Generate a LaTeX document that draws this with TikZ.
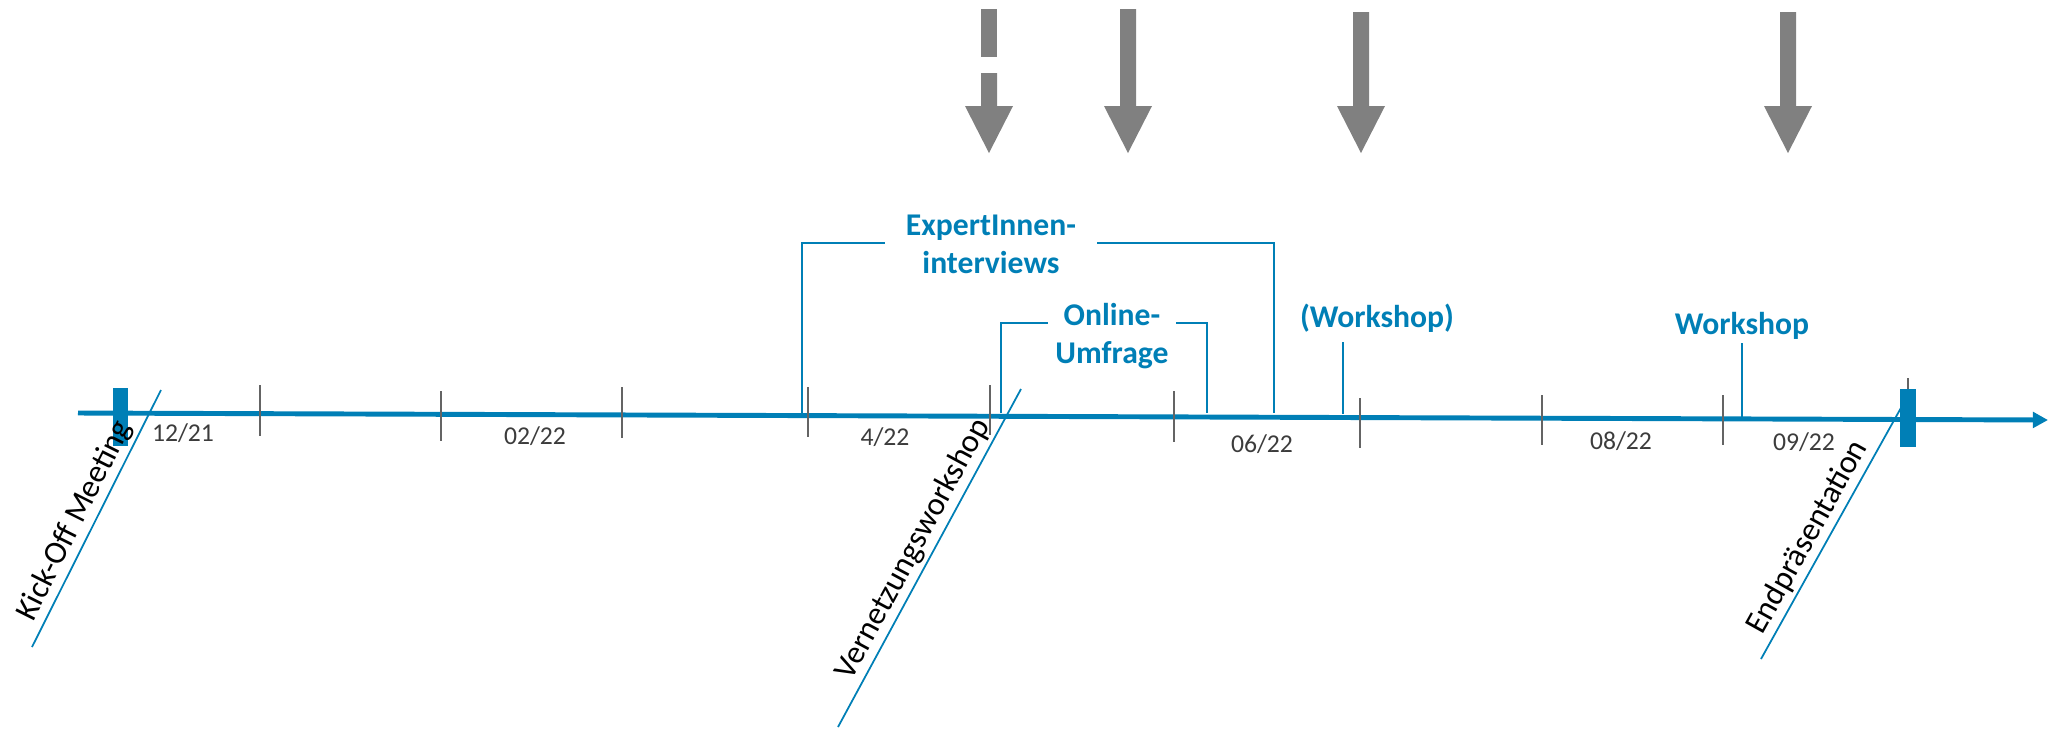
\documentclass[tikz,border=0pt]{standalone}
\usepackage{fontspec}
\setmainfont{Carlito}
\usetikzlibrary{arrows.meta}
\definecolor{tlblue}{RGB}{0,127,182}
\definecolor{arrowgray}{RGB}{128,128,128}
\definecolor{tickgray}{RGB}{100,100,100}
\definecolor{dategray}{RGB}{60,60,60}
% Hinweispfeil: x-Position, Oberkante des Schafts
\newcommand{\hinweis}[2]{%
  \fill[blockarrow] ({#1-8},#2) -- ({#1+8},#2) -- ({#1+8},106) -- ({#1+24},106)
    -- (#1,153) -- ({#1-24},106) -- ({#1-8},106) -- cycle;}

\begin{document}
\begin{tikzpicture}[x=0.01cm,y=-0.01cm,
    axisline/.style={draw=tlblue,line width=1.4pt,-{Triangle[length=4.3pt,width=4.4pt]}},
    monthtick/.style={draw=tickgray,line width=0.6pt},
    phaseline/.style={draw=tlblue,line width=0.75pt},
    markline/.style={draw=tlblue,line width=0.5pt},
    milestone/.style={fill=tlblue},
    blockarrow/.style={fill=arrowgray},
    datelabel/.style={text=dategray,font=\fontsize{7.3}{8.8}\selectfont,inner sep=0pt,anchor=base},
    phaselabel/.style={text=tlblue,font=\bfseries\fontsize{9}{10.6}\selectfont,align=center,inner sep=0pt,anchor=base},
    eventlabel/.style={font=\fontsize{9.2}{11}\selectfont,sloped,above,inner sep=1pt}]
        \useasboundingbox (0,0) rectangle (2050,729);

        % Pfeile oben
        \fill[blockarrow] (981,9) rectangle (997,57);
        \fill[blockarrow] (981,73) -- (997,73) -- (997,106) -- (1013,106) -- (989,153) -- (965,106) -- (981,106) -- cycle;
        \hinweis{1128}{9}
        \hinweis{1361}{12}
        \hinweis{1788}{12}

        % Zeitachse
        \coordinate (axstart) at (78,413);
        \coordinate (axend) at (2048,420);
        \draw[axisline] (axstart) -- (axend);

        \draw[monthtick] (260,385) -- (260,436);
        \draw[monthtick] (441,391) -- (441,441);
        \draw[monthtick] (622,387) -- (622,438);
        \draw[monthtick] (808,387) -- (808,437);
        \draw[monthtick] (990,385) -- (990,435);
        \draw[monthtick] (1174,391) -- (1174,442);
        \draw[monthtick] (1360,398) -- (1360,448);
        \draw[monthtick] (1542,395) -- (1542,445);
        \draw[monthtick] (1723,395) -- (1723,445);
        \draw[monthtick] (1908,378) -- (1908,428);

        \node[datelabel] (d1221) at (183,441) {12/21};
        \node[datelabel] (d0222) at (535,444) {02/22};
        \node[datelabel] (d0422) at (885,445) {4/22};
        \node[datelabel] (d0622) at (1262,452) {06/22};
        \node[datelabel] (d0822) at (1621,449) {08/22};
        \node[datelabel] (d0922) at (1804,450) {09/22};

        \fill[milestone] (113,388) rectangle (128,446);
        \fill[milestone] (1900,389) rectangle (1916,447);

        % Meilensteine unten
        \coordinate (kickfoot) at (32,647);
        \coordinate (kicktop) at (161,390);
        \draw[markline] (kickfoot) -- node[eventlabel,pos=0.46] (kicklabel) {Kick-Off Meeting} (kicktop);
        \coordinate (vernfoot) at (838,727);
        \coordinate (verntop) at (1021,389);
        \draw[markline] (vernfoot) -- node[eventlabel,pos=0.5] (vernlabel) {Vernetzungsworkshop} (verntop);
        \coordinate (endfoot) at (1761,659);
        \coordinate (endtop) at (1902,406);
        \draw[markline] (endfoot) -- node[eventlabel,pos=0.446] (endlabel) {Endpräsentation} (endtop);

        % Phasen oben
        \draw[phaseline] (802,413) |- (885,243);
        \draw[phaseline] (1097,243) -| (1274,413);
        \draw[phaseline] (1001,413) |- (1048,323);
        \draw[phaseline] (1176,323) -| (1207,413);
        \draw[phaseline] (1343,414) -- (1343,342);
        \draw[phaseline] (1742,417) -- (1742,343);

        \node[phaselabel] (experts) at (991,273) {ExpertInnen-\\interviews};
        \node[phaselabel] (umfrage) at (1112,363) {Online-\\Umfrage};
        \node[phaselabel] (vorws) at (1377,327) {(Workshop)};
        \node[phaselabel] (ws) at (1742,334) {Workshop};
    \end{tikzpicture}
\end{document}
